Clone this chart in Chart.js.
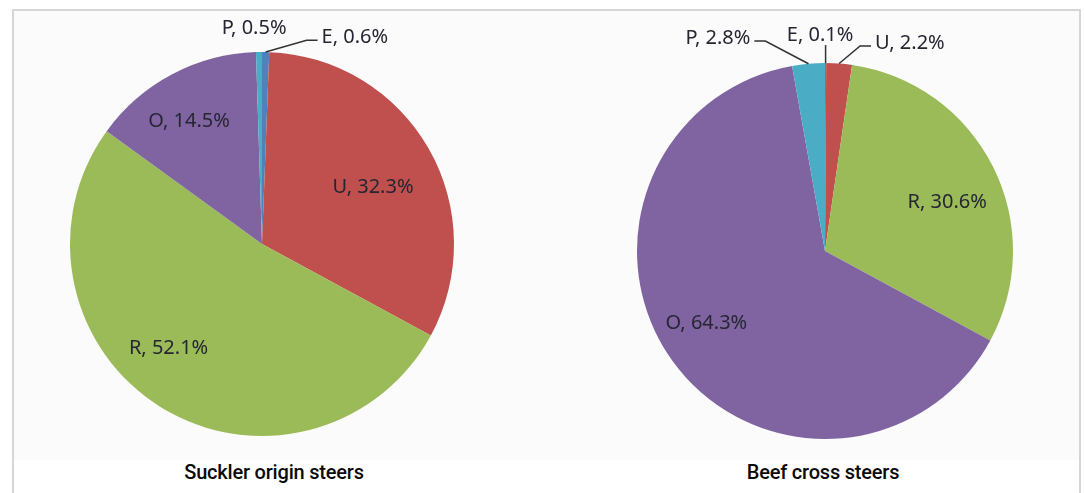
<!DOCTYPE html>
<html lang="en">
<head>
  <meta charset="UTF-8">
  <title>Conformation scores by origin</title>
  <script src="https://cdn.jsdelivr.net/npm/chart.js"></script>
  <style>
    html, body { margin: 0; padding: 0; background: #fff; }
    body { width: 1084px; height: 493px; position: relative; overflow: hidden; }
    /* grey frame round both pies */
    #frame {
      position: absolute; left: 12px; top: 9px; width: 1065px; height: 490px;
      border: 2px solid #d6d6d6; border-bottom: none;
      background: linear-gradient(#fbfbfb 0, #fbfbfb 449px, #fff 449px);
    }
    canvas { position: absolute; top: 0; }
    #sucklerPie { left: 12px; }
    #beefPie { left: 575px; }
    .caption {
      position: absolute; top: 460px; width: 300px; text-align: center;
      font-family: Roboto, "Liberation Sans", sans-serif; font-weight: 500;
      font-size: 20px; color: #0a0a0a; letter-spacing: -0.2px;
    }
  </style>
</head>
<body>
  <div id="frame"></div>
  <canvas id="sucklerPie" width="500" height="460"></canvas>
  <canvas id="beefPie" width="500" height="460"></canvas>
  <div class="caption" style="left:124px">Suckler origin steers</div>
  <div class="caption" style="left:673px">Beef cross steers</div>

  <script>
    // EUROP conformation classes, in the order Excel lays them out
    const grades = ['E', 'U', 'R', 'O', 'P'];
    const sucklerShare = [0.6, 32.3, 52.1, 14.5, 0.5];
    const beefCrossShare = [0.1, 2.2, 30.6, 64.3, 2.8];
    const gradeColors = ['#4F81BD', '#C0504D', '#9BBB59', '#8064A2', '#4BACC6'];

    // where each label sits: angle clockwise from 12 o'clock, distance as share of radius
    // lead: which side of the label the leader line joins ('left', 'right', 'down')
    const sucklerLabelPos = [
      { a: 24.2, r: 1.18, lead: 'left' },
      { a: 62.8, r: 0.65 },
      { a: 221.8, r: 0.73 },
      { a: 329.3, r: 0.745 },
      { a: 357.9, r: 1.125 }
    ];
    const beefLabelPos = [
      { a: 358.7, r: 1.149, lead: 'down' },
      { a: 22.2, r: 1.195, lead: 'left' },
      { a: 68.3, r: 0.70 },
      { a: 238.5, r: 0.74 },
      { a: 333.3, r: 1.268, lead: 'right' }
    ];

    const sliceLabels = {
      id: 'sliceLabels',
      afterDatasetsDraw(chart, args, opts) {
        const ctx = chart.ctx;
        const meta = chart.getDatasetMeta(0);
        const values = chart.data.datasets[0].data;
        ctx.save();
        ctx.font = '20px "Noto Sans", sans-serif';
        ctx.fillStyle = '#262633';
        ctx.strokeStyle = '#333';
        ctx.lineWidth = 1.5;
        ctx.textAlign = 'center';
        ctx.textBaseline = 'middle';
        meta.data.forEach((arc, i) => {
          const p = opts.pos[i];
          const { x, y, outerRadius, startAngle, endAngle } =
            arc.getProps(['x', 'y', 'outerRadius', 'startAngle', 'endAngle'], true);
          const ang = (p.a - 90) * Math.PI / 180;
          const lx = x + Math.cos(ang) * p.r * outerRadius;
          const ly = y + Math.sin(ang) * p.r * outerRadius;
          const text = chart.data.labels[i] + ', ' + values[i].toFixed(1) + '%';
          ctx.fillText(text, lx, ly);

          if (p.lead) {
            const mid = (startAngle + endAngle) / 2;
            const ex = x + Math.cos(mid) * outerRadius;
            const ey = y + Math.sin(mid) * outerRadius;
            const half = ctx.measureText(text).width / 2;
            ctx.beginPath();
            if (p.lead === 'down') {
              ctx.moveTo(ex, ey);
              ctx.lineTo(ex, ly + 10);
            } else {
              const dir = p.lead === 'left' ? -1 : 1;
              const sx = lx + dir * (half + 4);
              const kx = sx + dir * 11;
              ctx.moveTo(ex, ey);
              ctx.lineTo(kx, ly + 3);
              ctx.lineTo(sx, ly + 3);
            }
            ctx.stroke();
          }
        });
        ctx.restore();
      }
    };

    function makePie(id, values, pos, pad) {
      return new Chart(document.getElementById(id), {
        type: 'pie',
        data: {
          labels: grades,
          datasets: [{
            data: values,
            backgroundColor: gradeColors,
            borderWidth: 0
          }]
        },
        options: {
          responsive: false,
          animation: false,
          devicePixelRatio: 1,
          layout: { padding: pad },
          plugins: {
            legend: { display: false },
            tooltip: { enabled: false },
            sliceLabels: { pos: pos }
          }
        },
        plugins: [sliceLabels]
      });
    }

    makePie('sucklerPie', sucklerShare, sucklerLabelPos, { top: 52, bottom: 24, left: 0, right: 0 });
    makePie('beefPie', beefCrossShare, beefLabelPos, { top: 63, bottom: 21, left: 0, right: 0 });
  </script>
</body>
</html>
